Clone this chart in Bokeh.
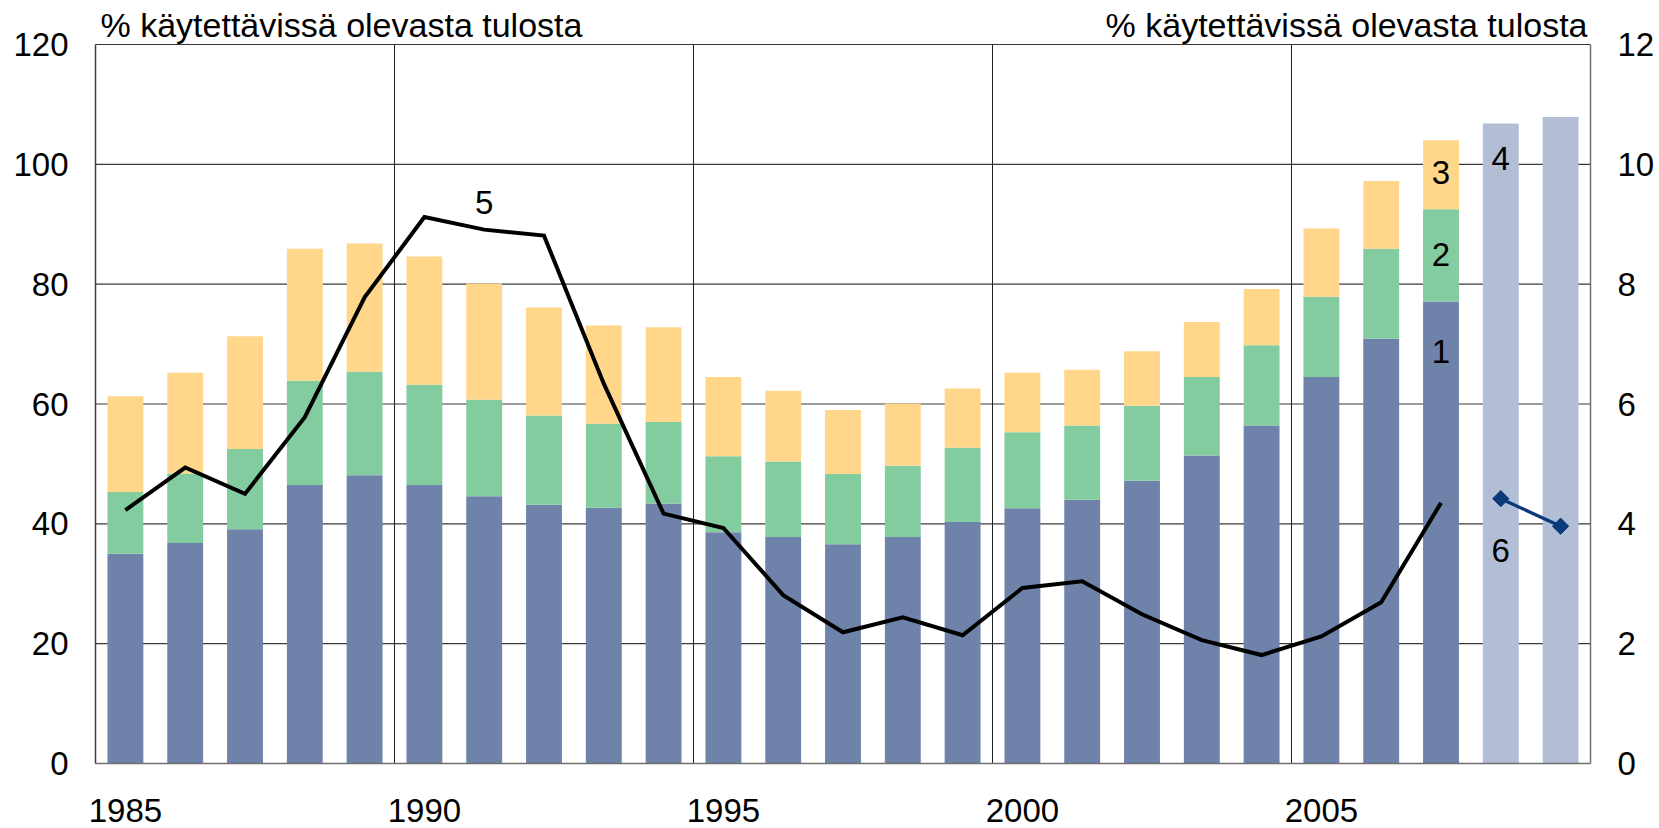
from bokeh.plotting import figure
from bokeh.models import ColumnDataSource, Range1d, Label
from bokeh.core.properties import value
from bokeh.embed import file_html
from bokeh.resources import INLINE
import numpy as np

NaN = float("nan")
years = list(range(1985, 2010))
# series 1-3 (stacked, % of disposable income), series 4 (forecast total)
s1 = [35.0, 36.8, 39.1, 46.5, 48.1, 46.5, 44.6, 43.2, 42.7, 43.4, 38.6, 37.8, 36.6,
      37.8, 40.3, 42.6, 44.0, 47.2, 51.4, 56.4, 64.5, 70.9, 77.1, NaN, NaN]
s2 = [10.3, 11.6, 13.4, 17.4, 17.3, 16.7, 16.1, 14.9, 14.0, 13.6, 12.7, 12.6, 11.7,
      11.9, 12.4, 12.7, 12.4, 12.5, 13.1, 13.4, 13.4, 15.0, 15.4, NaN, NaN]
s3 = [16.0, 16.8, 18.8, 22.0, 21.4, 21.4, 19.4, 18.0, 16.4, 15.8, 13.2, 11.8, 10.7,
      10.4, 9.9, 9.9, 9.3, 9.1, 9.2, 9.4, 11.4, 11.3, 11.5, NaN, NaN]
s4 = [NaN] * 23 + [106.8, 107.9]
# series 5 and 6 (right axis)
s5 = [4.23, 4.94, 4.50, 5.78, 7.78, 9.12, 8.91, 8.81, 6.34, 4.17, 3.93, 2.81, 2.19,
      2.44, 2.14, 2.93, 3.04, 2.49, 2.06, 1.81, 2.12, 2.69, 4.35, NaN, NaN]
s6 = [NaN] * 23 + [4.42, 3.96]

left_ticks = [0, 20, 40, 60, 80, 100, 120]
right_ticks = [0, 2, 4, 6, 8, 10, 12]
x_tick_years = [1985, 1990, 1995, 2000, 2005]
x_tick_labels = [str(y) for y in x_tick_years]
left_labels = [str(t) for t in left_ticks]
right_labels = [str(t) for t in right_ticks]
title_text = "% käytettävissä olevasta tulosta"

# series number labels: (text, year, left-axis value)
series_labels = [("1", 2007, 68.8), ("2", 2007, 85.0), ("3", 2007, 98.6),
                 ("4", 2008, 100.9), ("5", 1991, 93.7), ("6", 2008, 35.6)]

FONT = "Liberation Sans"
C1, C2, C3, C4 = "#6E82AA", "#82CCA0", "#FFD68A", "#B2BDD6"

# layout (pixels): the plotting frame covers the whole canvas
W, H = 1659, 828
FL, FR = 95, 1590          # left/right edges of the value area
Y120, Y0 = 44, 763         # pixel rows of 120 and 0
ppu = (Y0 - Y120) / 120.0  # pixels per unit (vertical)
xppu = (FR - FL) / 25.0    # pixels per year
X0, X1 = 1984.5, 2009.5    # value-area x limits
ymax = 120 + Y120 / ppu
ymin = -(H - Y0) / ppu

src = ColumnDataSource(dict(x=years, s1=s1, s2=s2, s3=s3, s4=s4, s5=s5, s6=s6))

p = figure(width=W, height=H, output_backend="svg", toolbar_location=None,
           x_range=Range1d(X0 - FL / xppu, X1 + (W - FR) / xppu),
           y_range=Range1d(ymin, ymax),
           x_axis_location=None, y_axis_location=None,
           min_border_left=0, min_border_right=0, min_border_top=0,
           min_border_bottom=0)
p.extra_y_ranges = {"right": Range1d(ymin / 10, ymax / 10)}
p.outline_line_color = None
p.background_fill_color = "white"
p.border_fill_color = "white"
p.xgrid.visible = False
p.ygrid.visible = False

# horizontal grid lines (value area only)
hg = left_ticks[1:]
p.segment(x0=[X0] * len(hg), y0=hg, x1=[X1] * len(hg), y1=hg,
          line_color="#383838", line_width=1.2)
# vertical lines between 5-year blocks, spanning 0..120
vx = [y - 0.5 for y in x_tick_years[1:]]
p.segment(x0=vx, y0=[0] * len(vx), x1=vx, y1=[120] * len(vx),
          line_color="#202020", line_width=1)

p.vbar_stack(["s1", "s2", "s3"], x="x", width=0.6, source=src,
             color=[C1, C2, C3], line_color=None)
p.vbar(x="x", top="s4", width=0.6, source=src, color=C4, line_color=None)

# axis lines
p.segment(x0=[X0], y0=[0], x1=[X1], y1=[0], line_color="#707070", line_width=1.5)
p.segment(x0=[X0], y0=[0], x1=[X0], y1=[120], line_color="#404040", line_width=1.5)
p.segment(x0=[X1], y0=[0], x1=[X1], y1=[120], line_color="#707070", line_width=1.5)

p.line(x="x", y="s5", source=src, y_range_name="right", line_color="black",
       line_width=4, line_join="miter")
p.line(x="x", y="s6", source=src, y_range_name="right", line_color="#0B3A78",
       line_width=3.3)
p.scatter(x="x", y="s6", source=src, y_range_name="right", marker="square",
          angle=np.pi / 4, size=11.5, color="#0B3A78")

tick_font = dict(text_font=value(FONT), text_font_size="33px", text_color="black",
                 text_baseline="middle")
# left axis labels
p.text(x=[X0 - 27 / xppu] * len(left_ticks), y=left_ticks, text=left_labels,
       text_align="right", **tick_font)
# right axis labels
p.text(x=[X1 + 27 / xppu] * len(right_ticks), y=right_ticks, text=right_labels,
       y_range_name="right", text_align="left", **tick_font)
# year labels
p.text(x=x_tick_years, y=[-(809.5 - Y0) / ppu] * len(x_tick_years),
       text=x_tick_labels, text_align="center", **tick_font)

# titles above the value area
ty = 120 + (Y120 - 24.6) / ppu
p.add_layout(Label(x=X0 + 5 / xppu, y=ty, text=title_text,
                   text_font=FONT, text_font_size="34px", text_align="left",
                   text_baseline="middle", text_color="black"))
p.add_layout(Label(x=X1 - 3 / xppu, y=ty, text=title_text,
                   text_font=FONT, text_font_size="34px", text_align="right",
                   text_baseline="middle", text_color="black"))

for t, xx, yy in series_labels:
    p.add_layout(Label(x=xx, y=yy, text=t, text_font=FONT, text_font_size="33px",
                       text_align="center", text_baseline="middle",
                       text_color="black"))

open("out.html", "w").write(file_html(p, INLINE))
